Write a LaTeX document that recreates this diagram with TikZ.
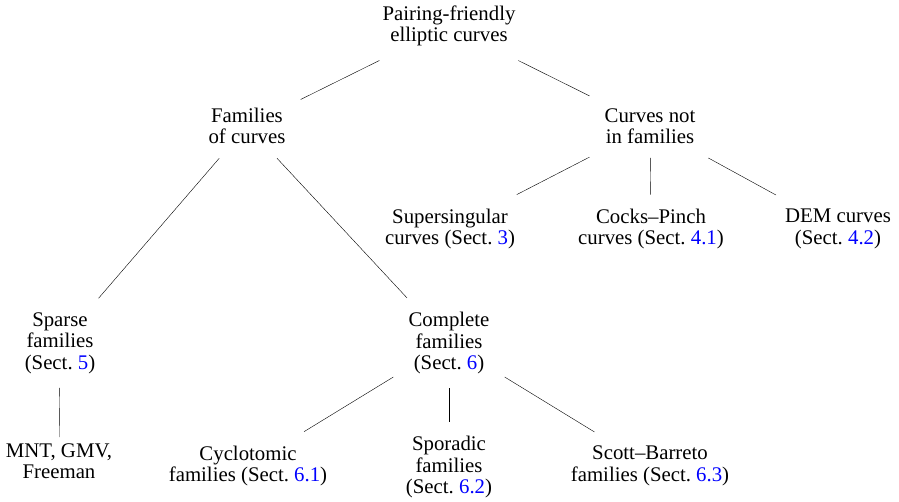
\documentclass[tikz,border=0pt]{standalone}
\usepackage{fontspec}
\setmainfont{Liberation Serif}
\usepackage{xcolor}
\usepackage{tikz}
\usetikzlibrary{positioning}
\newcommand{\sectref}[1]{(Sect.~\textcolor{blue}{#1})}

\begin{document}
\begin{tikzpicture}[x=1pt,y=-1pt,
  lbl/.style={align=center,inner xsep=15pt,inner ysep=14pt,font=\fontsize{20.8}{21.5}\selectfont}]
  \useasboundingbox (0,0) rectangle (899,501);
  % top levels
  \node[lbl] (root) at (449,26) {Pairing-friendly\\elliptic curves};
  \node[lbl] (fam) at (247,126) {Families\\of curves};
  \node[lbl] (nofam) at (650,126) {Curves not\\in families};
  % curves not in families
  \node[lbl] (super) at (450,229) {Supersingular\\curves \sectref{3}};
  \node[lbl] (cp) at (651,229) {Cocks--Pinch\\curves \sectref{4.1}};
  \node[lbl] (dem) at (838,229) {DEM curves\\\sectref{4.2}};
  % families
  \node[lbl] (sparse) at (60,343) {Sparse\\families\\\sectref{5}};
  \node[lbl] (compl) at (449,343) {Complete\\families\\\sectref{6}};
  \node[lbl,inner ysep=6pt] (mnt) at (59,461) {MNT, GMV,\\Freeman};
  \node[lbl] (cyclo) at (248,466) {Cyclotomic\\families \sectref{6.1}};
  \node[lbl] (spor) at (449,467) {Sporadic\\families\\\sectref{6.2}};
  \node[lbl] (sb) at (650,466) {Scott--Barreto\\families \sectref{6.3}};
  % edges
  \draw (root) -- (fam);
  \draw (root) -- (nofam);
  \draw (nofam) -- (super);
  \draw (nofam) -- (cp);
  \draw (nofam) -- (dem);
  \draw (fam) -- (sparse);
  \draw (fam) -- (compl);
  \draw (sparse) -- (mnt);
  \draw (compl) -- (cyclo);
  \draw (compl) -- (spor);
  \draw (compl) -- (sb);
\end{tikzpicture}
\end{document}
